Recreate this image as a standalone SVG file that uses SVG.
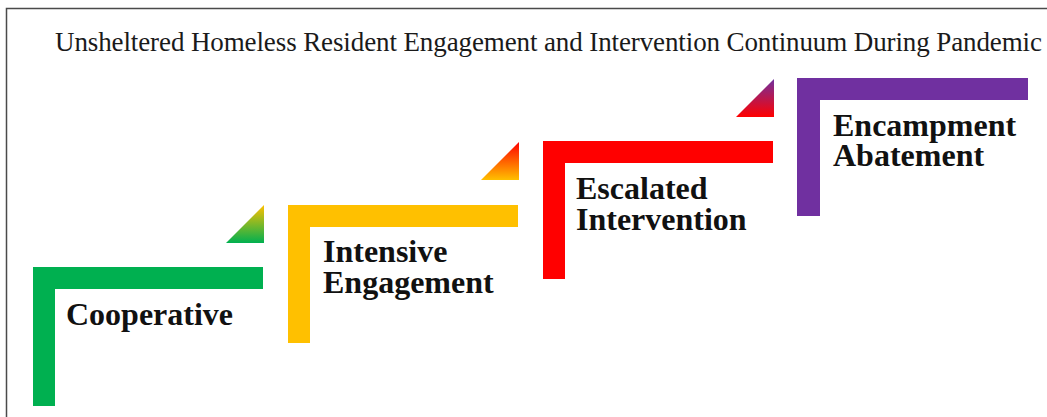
<svg xmlns="http://www.w3.org/2000/svg" width="1047" height="417" viewBox="0 0 1047 417">
  <defs>
    <linearGradient id="gYellowGreen" x1="0" y1="0" x2="0" y2="1">
      <stop offset="0" stop-color="#ffc000"/>
      <stop offset="1" stop-color="#00b050"/>
    </linearGradient>
    <linearGradient id="gRedYellow" x1="0" y1="0" x2="0" y2="1">
      <stop offset="0" stop-color="#ff0000"/>
      <stop offset="1" stop-color="#ffc000"/>
    </linearGradient>
    <linearGradient id="gPurpleRed" x1="0" y1="0" x2="0" y2="1">
      <stop offset="0" stop-color="#7030a0"/>
      <stop offset="1" stop-color="#ff0000"/>
    </linearGradient>
  </defs>
  <style>
    .frame { fill: none; stroke: #4a4a4a; stroke-width: 1.5; }
    .title { font-family: "Liberation Serif", "Times New Roman", serif; font-size: 27px; fill: #1a1a1a; }
    .label { font-family: "Liberation Serif", "Times New Roman", serif; font-size: 32px; font-weight: bold; fill: #111111; }
  </style>

  <rect x="0" y="0" width="1047" height="417" fill="#ffffff"/>
  <path class="frame" d="M6.5 417 V8.5 H1047"/>

  <text class="title" x="55" y="51" textLength="987" lengthAdjust="spacing">Unsheltered Homeless Resident Engagement and Intervention Continuum During Pandemic</text>

  <!-- transition wedges between steps -->
  <g id="connectors">
    <polygon points="226,243 264,205 264,243" fill="url(#gYellowGreen)"/>
    <polygon points="481,180 519,142 519,180" fill="url(#gRedYellow)"/>
    <polygon points="736,117 774,79 774,117" fill="url(#gPurpleRed)"/>
  </g>

  <g id="step-cooperative">
    <path d="M33 267 H263 V289 H55 V406 H33 Z" fill="#00b050"/>
    <text class="label" x="66" y="325">Cooperative</text>
  </g>

  <g id="step-intensive-engagement">
    <path d="M288 205 H518 V227 H310 V343 H288 Z" fill="#ffc000"/>
    <text class="label" x="323" y="262">Intensive<tspan x="323" y="293">Engagement</tspan></text>
  </g>

  <g id="step-escalated-intervention">
    <path d="M543 141 H773 V163 H565 V279 H543 Z" fill="#ff0000"/>
    <text class="label" x="576" y="199">Escalated<tspan x="576" y="230">Intervention</tspan></text>
  </g>

  <g id="step-encampment-abatement">
    <path d="M797 78 H1028 V100 H820 V216 H797 Z" fill="#7030a0"/>
    <text class="label" x="833" y="136">Encampment<tspan x="833" y="166">Abatement</tspan></text>
  </g>
</svg>
